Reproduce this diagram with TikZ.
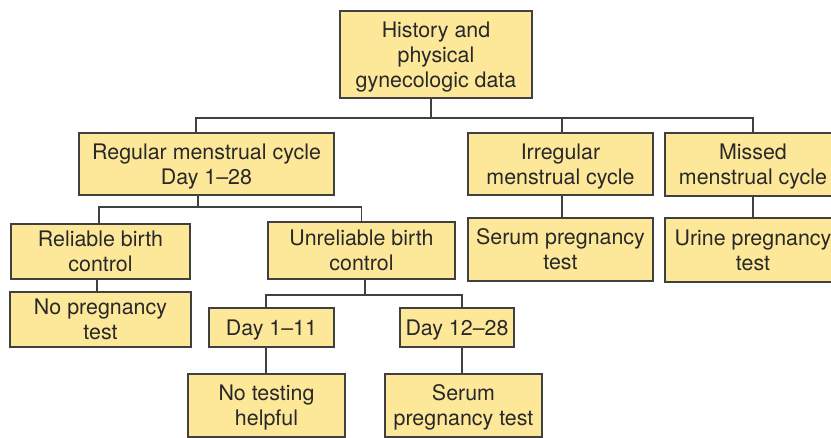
\documentclass[tikz,border=0pt]{standalone}
\usepackage{fontspec}
\setmainfont{TeX Gyre Heros}
\definecolor{Boxfill}{RGB}{253,232,154}
\definecolor{Edge}{RGB}{64,64,64}
\definecolor{Ink}{RGB}{40,40,40}
\tikzset{
  box/.style={draw=Edge,fill=Boxfill,line width=1.3pt,align=center,inner sep=0pt,
    text depth=0pt,text=Ink,font=\fontsize{21.4}{25}\selectfont},
  link/.style={draw=Edge,line width=1.3pt}
}
\begin{document}
\begin{tikzpicture}[x=1pt,y=-1pt,line join=miter]
\useasboundingbox (0,0) rectangle (831,438);
\begin{scope}
\clip (0,0) rectangle (831,438);
% first row
\node[box,minimum width=192,minimum height=87] (hist) at (436,54.5) {History and\\physical\\gynecologic data};
% second row
\node[box,minimum width=255,minimum height=62] (reg) at (206.5,164) {Regular menstrual cycle\\Day 1--28};
\node[box,minimum width=185,minimum height=62] (irr) at (560.5,164) {Irregular\\menstrual cycle};
\node[box,minimum width=176,minimum height=63] (mis) at (753,164.5) {Missed\\menstrual cycle};
% third row
\node[box,minimum width=179,minimum height=55] (rel) at (100.5,251.5) {Reliable birth\\control};
\node[box,minimum width=187,minimum height=57] (unr) at (361.5,250.5) {Unreliable birth\\control};
\node[box,minimum width=185,minimum height=63] (serirr) at (560.5,249.5) {Serum pregnancy\\test};
\node[box,minimum width=176,minimum height=64] (urine) at (753,250) {Urine pregnancy\\test};
% fourth row
\node[box,minimum width=181,minimum height=55] (notest) at (100.5,319.5) {No pregnancy\\test};
\node[box,minimum width=125,minimum height=39] (early) at (271.5,327.5) {Day 1--11};
\node[box,minimum width=114,minimum height=39] (late) at (457,327.5) {Day 12--28};
% last row
\node[box,minimum width=157,minimum height=63] (nohelp) at (266.5,405.5) {No testing\\helpful};
\node[box,minimum width=157,minimum height=63] (serlate) at (463.5,405.5) {Serum\\pregnancy test};
\end{scope}
% junctions and drop points
\coordinate (j0) at (431,118);
\coordinate (j1) at (198,207);
\coordinate (j2) at (365,295);
\coordinate (dirr) at ([xshift=1.5pt]irr.south);
\coordinate (dearly) at ([xshift=-5.5pt]early.south);
\coordinate (dlate) at ([xshift=5pt]late.south);
% connectors
\draw[link] ([xshift=-5pt]hist.south) -- (j0);
\draw[link] ([xshift=-10.5pt]reg.north) |- (j0) -| (mis.north);
\draw[link] (irr.north -| dirr) -- (j0 -| dirr);
\draw[link] ([xshift=-8.5pt]reg.south) -- (j1);
\draw[link] ([xshift=-1.5pt]rel.north) |- (j1) -| (unr.north);
\draw[link] ([xshift=-3.5pt]rel.south) -- ([xshift=-3.5pt]notest.north);
\draw[link] ([xshift=3.5pt]unr.south) -- (j2);
\draw[link] ([xshift=-5.5pt]early.north) |- (j2) -| ([xshift=5pt]late.north);
\draw[link] (dearly) -- (nohelp.north -| dearly);
\draw[link] (dlate) -- (serlate.north -| dlate);
\draw[link] (dirr) -- (serirr.north -| dirr);
\draw[link] (mis.south) -- (urine.north);
\end{tikzpicture}
\end{document}
